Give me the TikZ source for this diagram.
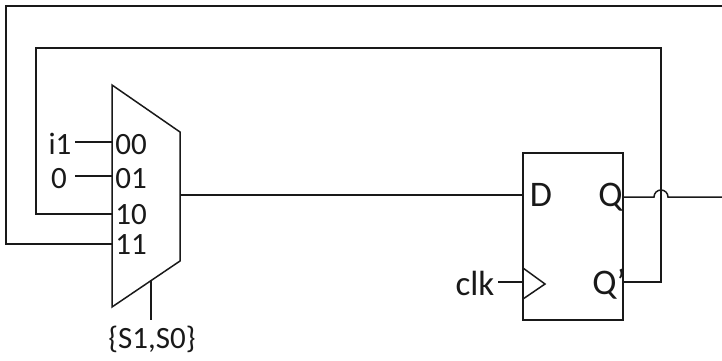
\documentclass[tikz,border=0pt]{standalone}
\usepackage{fontspec}
\setmainfont{Carlito}
\tikzset{
  wire/.style={draw=black!90,line width=1.5pt,line join=miter},
  lbl/.style={inner sep=0pt,anchor=base,font=\fontsize{31}{31}\selectfont,text=black!90},
  lblbig/.style={inner sep=0pt,anchor=base,font=\fontsize{36}{36}\selectfont,text=black!90},
  lblclk/.style={inner sep=0pt,anchor=base,font=\fontsize{35}{35}\selectfont,text=black!90},
  ffbox/.style={draw=black!90,line width=1.5pt,minimum width=100pt,minimum height=167pt,inner sep=0pt,outer sep=0pt}
}
\begin{document}
\begin{tikzpicture}[x=1pt,y=-1pt]
\useasboundingbox (0,0) rectangle (722,360);
% mux corners and ports
\coordinate (mTL) at (112,85);
\coordinate (mTR) at (180,132);
\coordinate (mBR) at (180,261);
\coordinate (mBL) at (112,307);
\draw[wire] (mTL) -- (mTR) -- (mBR) -- (mBL) -- cycle;
\coordinate (p00) at (112,142);
\coordinate (p01) at (112,176);
\coordinate (p10) at (112,214);
\coordinate (p11) at (112,244);
\coordinate (mOut) at (180,195);
\coordinate (mSel) at (151,280);
% mux labels
\node[lbl] (t00) at (131,154) {00};
\node[lbl] (t01) at (131,188) {01};
\node[lbl] (t10) at (131,224) {10};
\node[lbl] (t11) at (131,254) {11};
\node[lbl] (ti1) at (60,154) {i1};
\node[lbl] (tz) at (59,188) {0};
\node[lbl] (tsel) at (152,348) {\{S1,S0\}};
% flip-flop
\node[ffbox] (ff) at (573,236.5) {};
\coordinate (fD) at (ff.west |- 0,195);
\coordinate (fQ) at (ff.east |- 0,197);
\coordinate (fQn) at (ff.east |- 0,282);
\coordinate (fClk) at (ff.west |- 0,283);
\draw[wire,line join=miter] (523,268) -- (545,284) -- (523,299);
\node[lblbig] (tD) at (541,206) {D};
\node[lblbig] (tQ) at (610.5,206) {Q};
\node[lblbig] (tQn) at (609,294) {Q’};
\node[lblclk] (tclk) at (475,295) {clk};
% free ends
\coordinate (i1End) at (75,142);
\coordinate (zEnd) at (75,176);
\coordinate (selEnd) at (151,320);
\coordinate (clkEnd) at (498,282);
\coordinate (outerEnd) at (722,6);
\coordinate (qEnd) at (722,197);
% wires
\draw[wire] (i1End) -- (p00);
\draw[wire] (zEnd) -- (p01);
\draw[wire] (mSel) -- (selEnd);
\draw[wire] (mOut) -- (fD);
\draw[wire] (clkEnd) -- (fClk |- clkEnd);
\draw[wire] (p10) -| (36,48) -| (661,282) -- (fQn);
\draw[wire] (p11) -| (6,6) -- (outerEnd);
\draw[wire] (fQ) -- (654,197) arc[start angle=180,end angle=360,radius=7] -- (qEnd);
\end{tikzpicture}
\end{document}
